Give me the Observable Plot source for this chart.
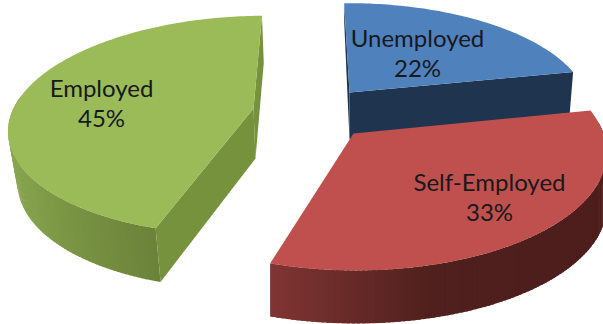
<!DOCTYPE html>
<html>
<head>
<meta charset="utf-8">
<script src="https://cdn.jsdelivr.net/npm/d3@7"></script>
<script src="https://cdn.jsdelivr.net/npm/@observablehq/plot@0.6"></script>
<style>
  html, body { margin: 0; padding: 0; background: #fff; overflow: hidden; }
  svg { display: block; }
</style>
</head>
<body>
<div id="chart"></div>
<script>
// Employment status shares, in percent, clockwise from the back of the pie.
const categories = ["Unemployed", "Self-Employed", "Employed"];
const shares = [22, 33, 45];

// Top, side-wall and wall-shading colours per category.
const topColors = ["#4f81bd", "#c0504d", "#9bbb59"];
const wallColors = ["#1f344f", "#7d3331", "#76923c"];
const rimColors = [
  ["#1f344f", "#1f344f"],
  ["#4d1e1c", "#4f201d", "#7f3533"],
  ["#6b8339", "#84a04b", "#8ba750"]
];

// Exploded 3D placement of each slice on the page.
const placement = [
  {cx: 349, cy: 92, rx: 236, ry: 103, skew: 2, depth: 47, lowX: 0, scaleX: 0.985, scaleY: 1.3, walls: true},
  {cx: 353, cy: 133, rx: 250, ry: 116, skew: 2, depth: 53, lowX: 0, scaleX: 1, scaleY: 1, walls: false},
  {cx: 253, cy: 108, rx: 240, ry: 107, skew: -14, depth: 50, lowX: 2, scaleX: 0.97, scaleY: 1.03, walls: true}
];
const labelAt = [[417, 52], [489, 196], [101, 102]];

const startAngle = -1;   // degrees clockwise from the back
const perspective = 0.153;
const rad = Math.PI / 180;

// Projects a rim angle of a slice to the page, with nearer points drawn larger.
function rimPoint(p, deg) {
  const X = Math.sin(deg * rad), Y = -Math.cos(deg * rad);
  const s = 1 / (1 - perspective * Y);
  return [p.cx + (p.rx * X + p.skew * Y) * s, p.cy + p.ry * Y * s];
}
// The same rim on the underside of the slice.
function lowPoint(p, deg) {
  const [x, y] = rimPoint(p, deg);
  return [
    p.cx + p.lowX + (x - p.cx) * p.scaleX,
    p.cy + p.depth + (y - p.cy) * p.scaleY
  ];
}
const polygon = (ring, fill) => ({
  type: "Feature",
  properties: {fill},
  geometry: {type: "Polygon", coordinates: [[...ring, ring[0]]]}
});

// Builds each slice back to front: radial walls, shaded rim, then the top face.
const order = [2, 0, 1];
const cumulative = d3.cumsum(shares);
const pieces = [];
for (const i of order) {
  const p = placement[i];
  const a0 = startAngle + (i ? cumulative[i - 1] : 0) * 3.6;
  const a1 = startAngle + cumulative[i] * 3.6;
  const steps = d3.range(a0, a1, 1).concat(a1);
  const centre = [p.cx, p.cy];
  const centreLow = [p.cx + p.lowX, p.cy + p.depth];
  const wall = deg => polygon(
    [centre, rimPoint(p, deg), lowPoint(p, deg), centreLow],
    wallColors[i]
  );
  if (p.walls) pieces.push(wall(a1));
  const shade = d3.scaleLinear()
    .domain(i === 1 ? [140, 165, 197] : [197, 235, 275])
    .range(rimColors[i])
    .clamp(true);
  // Each band runs slightly under its neighbour so no seams show between them.
  for (let k = 0; k < steps.length - 1; k++) {
    const mid = (steps[k] + steps[k + 1]) / 2;
    if (-Math.cos(mid * rad) < -0.1) continue;
    const far = Math.min(steps[k + 1] + 0.6, a1);
    pieces.push(polygon([
      rimPoint(p, steps[k]), rimPoint(p, far),
      lowPoint(p, far), lowPoint(p, steps[k])
    ], shade(mid)));
  }
  if (p.walls) pieces.push(wall(a0));
  pieces.push(polygon([centre, ...steps.map(d => rimPoint(p, d))], topColors[i]));
}

const labels = categories.map((name, i) => ({
  text: `${name}\n${shares[i]}%`,
  x: labelAt[i][0],
  y: labelAt[i][1]
}));

const chart = Plot.plot({
  width: 603,
  height: 324,
  margin: 0,
  projection: "identity",
  style: {background: "#fff", overflow: "hidden"},
  marks: [
    Plot.geo(pieces, {
      fill: d => d.properties.fill
    }),
    Plot.text(labels, {
      x: "x",
      y: "y",
      text: "text",
      fontFamily: "Lato",
      fontSize: 24,
      lineHeight: 1.24,
      fill: "#17191c"
    })
  ]
});
document.getElementById("chart").append(chart);
</script>
</body>
</html>
